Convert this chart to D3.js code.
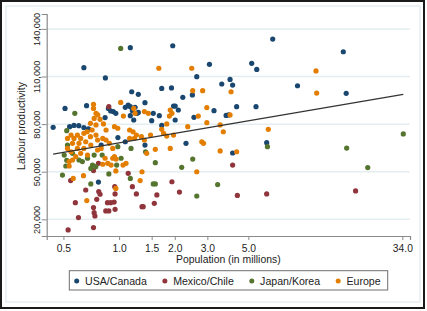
<!DOCTYPE html>
<html>
<head>
<meta charset="utf-8">
<script src="https://cdn.jsdelivr.net/npm/d3@7"></script>
<style>
  body { margin: 0; background: #fff; }
  svg { display: block; font-family: "Liberation Sans", Arial, sans-serif; }
</style>
</head>
<body>
<div id="container"></div>
<script>
const groupNames = ["USA/Canada", "Mexico/Chile", "Japan/Korea", "Europe"];
const populationTicks = [0.5, 1, 1.5, 2, 3, 5, 34];
const productivityTicks = [20000, 50000, 80000, 110000, 140000];

// [population in millions, labour productivity]
const usaCanada = [
  [0.44, 78000], [0.51, 89900], [0.54, 78400], [0.57, 79200], [0.605, 79000], [0.645, 77800], [0.683, 77000],
  [0.645, 115600], [0.667, 91600], [0.843, 109100], [0.84, 84100], [0.875, 89900], [0.9, 88300], [0.93, 87900],
  [0.96, 86800], [0.8, 66800], [0.773, 43500], [0.985, 71500], [1.08, 68900], [1.15, 128200], [1.17, 100400],
  [1.08, 90600], [1.12, 92000], [1.15, 91000], [1.18, 88500], [1.22, 90600], [1.25, 86800], [1.27, 87400],
  [1.15, 85300], [1.2, 82600], [1.27, 98800], [1.38, 93500], [1.38, 66800], [1.5, 82200], [1.53, 86800],
  [1.65, 85300], [1.7, 102500], [1.7, 79200], [1.92, 102800], [1.97, 91400], [2.01, 91400], [2.09, 88900],
  [2.01, 82600], [1.95, 129400], [2.21, 96900], [2.3, 67900], [2.49, 98400], [2.63, 109900], [2.54, 84300],
  [3.08, 117700], [3.26, 88500], [3.59, 105300], [3.98, 108200], [4.11, 104600], [3.79, 85500], [3.91, 85800],
  [4.11, 61800], [4.32, 91000], [5.21, 118300], [5.55, 114500], [5.5, 91000], [6.28, 68300], [6.77, 133600],
  [9.22, 104200], [16.3, 125600], [16.9, 99400]
];

const mexicoChile = [
  [0.88, 91000], [0.547, 44400], [0.727, 50700], [0.773, 55300], [0.66, 38500], [0.58, 30500], [0.603, 21100],
  [0.53, 13300], [0.727, 14800], [0.776, 37500], [0.789, 35800], [0.757, 32600], [0.727, 27400], [0.733, 24200],
  [0.74, 22100], [0.865, 30500], [0.9, 30500], [0.94, 30900], [0.847, 25300], [0.88, 25300], [0.951, 26300],
  [0.951, 36000], [0.947, 40600], [1.12, 49000], [1.18, 40600], [1.24, 36000], [1.33, 28000], [1.35, 28000],
  [1.55, 30100], [1.6, 35400], [1.93, 43700], [2.12, 37200], [4.11, 54200], [4.36, 35100], [6.28, 36000],
  [19.0, 37900]
];

const japanKorea = [
  [1.02, 127700], [0.576, 86800], [0.521, 75900], [0.526, 66800], [0.505, 60500], [0.521, 57200], [0.515, 53600],
  [0.494, 47900], [0.56, 61600], [0.607, 57400], [0.675, 58500], [0.733, 60500], [0.718, 54200], [0.703, 52100],
  [0.748, 53200], [0.633, 56400], [0.703, 42300], [0.88, 48600], [1.15, 45800], [0.81, 60500], [0.984, 65800],
  [1.025, 58500], [0.97, 54200], [1.16, 64700], [1.39, 62600], [1.57, 55700], [1.53, 42300], [1.57, 42300],
  [2.18, 52800], [2.5, 58000], [2.63, 34700], [3.41, 41900], [6.34, 65800], [17.0, 64900], [22.1, 52600],
  [34.4, 73800]
];

const europe = [
  [0.727, 92500], [0.727, 89900], [0.75, 86800], [0.733, 83600], [0.7, 80500], [0.75, 79500], [0.715, 76300],
  [0.672, 75200], [0.75, 73100], [0.765, 70000], [0.7, 72100], [0.645, 74200], [0.595, 73100], [0.55, 73100],
  [0.526, 71000], [0.57, 71000], [0.62, 71000], [0.66, 68900], [0.607, 67900], [0.56, 67900], [0.526, 64700],
  [0.595, 64700], [0.645, 64700], [0.703, 66800], [0.55, 62600], [0.62, 61600], [0.583, 59500], [0.537, 56400],
  [0.56, 57400], [0.675, 60500], [0.765, 63700], [0.537, 53600], [0.565, 45800], [0.642, 47500], [0.669, 31800],
  [0.789, 83000], [0.823, 80100], [1.02, 93700], [0.767, 85800], [0.944, 78400], [0.984, 77400], [0.85, 76300],
  [1.14, 76300], [1.19, 75200], [1.24, 73100], [1.37, 87900], [1.32, 72100], [1.37, 70000], [1.14, 71000],
  [1.21, 71000], [0.816, 71000], [0.85, 70000], [0.886, 67900], [0.924, 64700], [0.8, 64700], [0.944, 59500],
  [0.924, 58500], [0.963, 58000], [0.84, 58500], [0.868, 55300], [0.905, 54200], [1.05, 54200], [1.09, 55300],
  [0.816, 54700], [0.96, 50500], [0.96, 39500], [1.055, 85100], [1.64, 115200], [2.47, 115200], [2.5, 101100],
  [2.83, 101100], [4.03, 100400], [2.98, 90400], [2.68, 85100], [3.98, 85800], [1.89, 88900], [1.93, 86800],
  [1.87, 85100], [1.44, 86800], [1.2, 89900], [1.22, 86800], [3.52, 79500], [2.35, 78400], [1.81, 80100],
  [2.98, 80900], [1.41, 61600], [1.48, 73100], [1.7, 76700], [1.74, 74200], [1.57, 64100], [1.81, 72500],
  [1.97, 73100], [1.89, 64700], [2.8, 68900], [2.86, 67900], [3.52, 63100], [3.66, 75200], [4.32, 62600],
  [6.41, 76700], [1.33, 50000], [1.3, 44400], [2.63, 50000], [11.6, 113500], [11.7, 99600]
];

// linear fit of productivity on log10(population)
const fitIntercept = 68200;
const fitSlope = 19900;

const series = [usaCanada, mexicoChile, japanKorea, europe];
const colors = d3.scaleOrdinal()
  .domain(groupNames)
  .range(["#1a476f", "#90353b", "#55752f", "#e37e00"]);

const W = 427, H = 311;
const plot = { left: 46.7, right: 410, top: 14, bottom: 236 };

const svg = d3.select("#container")
  .append("svg")
  .attr("width", W)
  .attr("height", H);

// frame
svg.append("rect")
  .attr("x", 6).attr("y", 6)
  .attr("width", W - 13).attr("height", H - 15)
  .attr("fill", "none")
  .attr("stroke", "#e6eef0")
  .attr("stroke-width", 1.5);
svg.append("rect")
  .attr("x", 1).attr("y", 1)
  .attr("width", W - 4).attr("height", H - 4)
  .attr("fill", "none")
  .attr("stroke", "#1a1a1a")
  .attr("stroke-width", 2);

const x = d3.scaleLog()
  .domain([0.406, 37.4])
  .range([plot.left, plot.right]);

const y = d3.scaleLinear()
  .domain([9500, 149400])
  .range([plot.bottom, plot.top]);

// Gridlines
svg.append("g")
  .selectAll("line")
  .data(productivityTicks)
  .join("line")
  .attr("x1", plot.left)
  .attr("x2", plot.right)
  .attr("y1", d => y(d))
  .attr("y2", d => y(d))
  .attr("stroke", "#e4eef0")
  .attr("stroke-width", 1.5);

// Axes
const xAxis = svg.append("g")
  .attr("transform", `translate(0,${plot.bottom})`)
  .call(d3.axisBottom(x).tickValues(populationTicks).tickFormat(d3.format(".1f")).tickSizeOuter(0).tickSize(4).tickPadding(5));
xAxis.select(".domain").attr("stroke", "#8a8a8a").attr("stroke-width", 1.2);
xAxis.selectAll(".tick line").attr("stroke", "#8a8a8a");
xAxis.selectAll("text")
  .attr("fill", "#222")
  .attr("font-size", "10.3px");

const yAxis = svg.append("g")
  .attr("transform", `translate(${plot.left},0)`)
  .call(d3.axisLeft(y).tickValues(productivityTicks).tickFormat(d3.format(",")).tickSizeOuter(0).tickSize(5));
yAxis.select(".domain").attr("stroke", "#8a8a8a").attr("stroke-width", 1.2);
yAxis.selectAll(".tick line").attr("stroke", "#8a8a8a");
yAxis.selectAll("text")
  .attr("fill", "#222")
  .attr("font-size", "9.2px")
  .attr("text-anchor", "middle")
  .attr("x", null)
  .attr("dy", null)
  .attr("transform", "translate(-7,0) rotate(-90)");

// Axis titles
svg.append("text")
  .attr("x", (plot.left + plot.right) / 2)
  .attr("y", 263)
  .attr("text-anchor", "middle")
  .attr("font-size", "10.4px")
  .attr("fill", "#222")
  .text("Population (in millions)");

svg.append("text")
  .attr("transform", `translate(24.5,126) rotate(-90)`)
  .attr("text-anchor", "middle")
  .attr("font-size", "10.4px")
  .attr("fill", "#222")
  .text("Labour productivity");

// Points
series.forEach((data, i) => {
  svg.append("g")
    .selectAll("circle")
    .data(data)
    .join("circle")
    .attr("cx", d => x(d[0]))
    .attr("cy", d => y(d[1]))
    .attr("r", 2.6)
    .attr("fill", colors(groupNames[i]));
});

// Fit line
const allPoints = series.flat();
const [pMin, pMax] = d3.extent(allPoints, d => d[0]);
const fitLine = d3.line()
  .x(d => x(d))
  .y(d => y(fitIntercept + fitSlope * Math.log10(d)));
svg.append("path")
  .datum([pMin, pMax])
  .attr("fill", "none")
  .attr("stroke", "#333")
  .attr("stroke-width", 1.2)
  .attr("d", fitLine);

// Legend
const legend = svg.append("g");
const legendBox = legend.append("rect")
  .attr("fill", "#fff")
  .attr("stroke", "#6e6e6e")
  .attr("stroke-width", 1);

let cursor = 76.7;
groupNames.forEach(name => {
  legend.append("circle")
    .attr("cx", cursor)
    .attr("cy", 281)
    .attr("r", 2.5)
    .attr("fill", colors(name));
  const t = legend.append("text")
    .attr("x", cursor + 8.3)
    .attr("y", 285)
    .attr("font-size", "10.6px")
    .attr("fill", "#222")
    .text(name);
  cursor += 8.3 + t.node().getComputedTextLength() + 18;
});
legendBox
  .attr("x", 69.3)
  .attr("y", 270.7)
  .attr("width", 318.4)
  .attr("height", 19.3);
</script>
</body>
</html>
